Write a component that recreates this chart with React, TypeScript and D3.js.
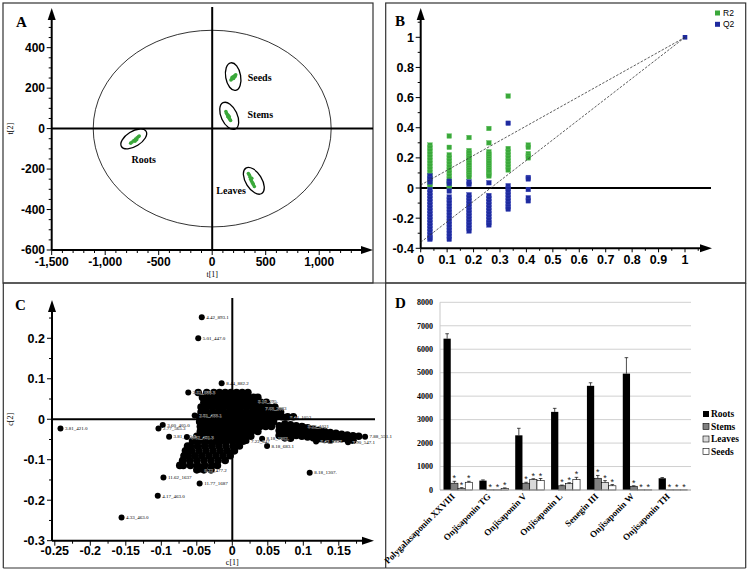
import React from "react";
import * as d3 from "d3";

const SANS = "'Liberation Sans', Arial, Helvetica, sans-serif";
const SERIF = "'Liberation Serif', 'Times New Roman', Times, serif";

// ================= Panel A : PCA score plot =================
const aXTicks = [-1500, -1000, -500, 0, 500, 1000];
const aYTicks = [-600, -400, -200, 0, 200, 400];
const aGroups = ["Seeds", "Stems", "Roots", "Leaves"];
const aSeeds: [number, number][] = [[175, 240], [185, 246], [192, 250], [198, 256], [206, 258], [212, 262], [220, 266], [200, 248], [186, 253], [214, 257]];
const aStems: [number, number][] = [[128, 84], [134, 76], [140, 70], [150, 66], [152, 56], [160, 50], [166, 45], [172, 40], [146, 60], [160, 58]];
const aRoots: [number, number][] = [[-762, -72], [-748, -66], [-732, -59], [-716, -52], [-702, -46], [-690, -40], [-722, -62], [-706, -55], [-682, -37]];
const aLeaves: [number, number][] = [[338, -222], [348, -230], [354, -240], [360, -250], [366, -258], [374, -266], [384, -276], [394, -286], [370, -246], [380, -270]];
const aGroupCenters: [number, number][] = [[196, 257], [159, 63], [-733, -51], [389, -258]];
const aHotelling: [number, number] = [1112, 486];

// ================= Panel B : permutation test =================
const bColX = [0.035, 0.108, 0.183, 0.258, 0.331, 0.407];
const bR2: number[][] = [
  [0.285, 0.265, 0.245, 0.225, 0.205, 0.185, 0.165, 0.145, 0.125, 0.105, 0.085, 0.065, 0.045, 0.025, 0.01],
  [0.345, 0.27, 0.22, 0.2, 0.18, 0.16, 0.14, 0.12, 0.1, 0.08, 0.06, 0.04, 0.02, 0.005],
  [0.335, 0.248, 0.232, 0.216, 0.2, 0.184, 0.168, 0.152, 0.136, 0.12, 0.104, 0.088, 0.072],
  [0.395, 0.3, 0.24, 0.225, 0.21, 0.195, 0.18, 0.165, 0.15, 0.135, 0.12, 0.105, 0.09, 0.08],
  [0.61, 0.262, 0.24, 0.22, 0.2, 0.18, 0.16, 0.14, 0.12],
  [0.285, 0.27, 0.228, 0.212, 0.2],
];
const bQ2: number[][] = [
  [0.08, 0.06, 0.04, -0.01, -0.03, -0.05, -0.07, -0.09, -0.11, -0.13, -0.15, -0.17, -0.19, -0.21, -0.23, -0.25, -0.27, -0.29, -0.31, -0.33, -0.34],
  [0.045, 0.03, -0.02, -0.06, -0.08, -0.1, -0.12, -0.14, -0.16, -0.18, -0.2, -0.22, -0.24, -0.26, -0.28, -0.3, -0.32, -0.34],
  [0.04, 0.025, -0.045, -0.065, -0.085, -0.105, -0.125, -0.145, -0.165, -0.185, -0.205, -0.225, -0.245, -0.265, -0.285],
  [0.035, -0.05, -0.07, -0.09, -0.11, -0.13, -0.15, -0.17, -0.19, -0.21, -0.23, -0.245],
  [0.43, 0.015, -0.005, -0.025, -0.045, -0.065, -0.085, -0.105, -0.125, -0.14],
  [0.07, 0.06, -0.01, -0.065, -0.085],
];
const bOriginal: [number, number] = [1, 1];
const bR2Line: [number, number][] = [[0, 0.02], [1, 1]];
const bQ2Line: [number, number][] = [[0, -0.36], [1, 1]];
const bXTicks = [0, 0.1, 0.2, 0.3, 0.4, 0.5, 0.6, 0.7, 0.8, 0.9, 1];
const bYTicks = [-0.4, -0.2, 0, 0.2, 0.4, 0.6, 0.8, 1];
const bLegend = ["R2", "Q2"];

// ================= Panel C : loading plot =================
const cXTicks = [-0.25, -0.2, -0.15, -0.1, -0.05, 0, 0.05, 0.1, 0.15];
const cYTicks = [-0.3, -0.2, -0.1, 0, 0.1, 0.2];
const cLabeled: [number, number, string][] = [
  [-0.043, 0.252, "4.42_893.1"],
  [-0.048, 0.2, "5.01_447.0"],
  [-0.015, 0.089, "8.44_882.2"],
  [-0.242, -0.023, "3.81_421.0"],
  [-0.098, -0.014, "3.60_405.0"],
  [-0.104, -0.023, "2.77_565.3"],
  [-0.089, -0.043, "3.81_435.0"],
  [-0.097, -0.144, "11.62_1637"],
  [-0.046, -0.159, "11.77_1687"],
  [-0.105, -0.189, "4.17_463.0"],
  [-0.156, -0.243, "4.33_463.0"],
  [0.109, -0.132, "8.18_1307."],
  [0.049, -0.066, "8.18_683.1"],
  [0.042, -0.048, "8.18_1962."],
  [0.118, -0.055, "8.42_1337"],
  [0.163, -0.057, "7.90_547.1"],
  [0.187, -0.043, "7.88_551.1"],
  [-0.062, 0.066, "3.81_655.3"],
  [-0.053, 0.009, "2.81_433.1"],
  [-0.064, -0.044, "3.52_401.3"],
  [0.03, 0.045, "8.10_295."],
  [0.04, 0.028, "7.63_2883"],
  [0.075, 0.004, "8.44_1053"],
  [0.1, -0.018, "8.22_1021"],
  [0.02, -0.054, "7.22_647"],
  [-0.046, -0.125, "6.22_477.2"],
];
const cCoreRows: [number, number[]][] = [
  [0.066, [-0.048, -0.036, -0.026, -0.018, -0.01, -0.002, 0.006, 0.014, 0.022]],
  [0.054, [-0.042, -0.034, -0.026, -0.018, -0.01, -0.002, 0.006, 0.014, 0.022, 0.03, 0.036]],
  [0.042, [-0.04, -0.032, -0.024, -0.016, -0.008, 0.0, 0.008, 0.016, 0.024, 0.032, 0.04, 0.048]],
  [0.03, [-0.044, -0.036, -0.028, -0.02, -0.012, -0.004, 0.004, 0.012, 0.02, 0.028, 0.036, 0.044, 0.052, 0.06]],
  [0.018, [-0.044, -0.036, -0.028, -0.02, -0.012, -0.004, 0.004, 0.012, 0.02, 0.028, 0.036, 0.044, 0.052, 0.06, 0.068]],
  [0.006, [-0.046, -0.042, -0.034, -0.026, -0.018, -0.01, -0.002, 0.006, 0.014, 0.022, 0.03, 0.038, 0.046, 0.054, 0.062, 0.07, 0.078, 0.086]],
  [-0.006, [-0.046, -0.038, -0.03, -0.022, -0.014, -0.006, 0.002, 0.01, 0.018, 0.026, 0.034, 0.042, 0.05, 0.058]],
  [-0.018, [-0.045, -0.041, -0.033, -0.025, -0.017, -0.009, -0.001, 0.007, 0.015, 0.023, 0.031, 0.039, 0.047, 0.055]],
  [-0.03, [-0.045, -0.037, -0.029, -0.021, -0.013, -0.005, 0.003, 0.011, 0.019, 0.027, 0.036]],
  [-0.042, [-0.05, -0.046, -0.038, -0.03, -0.022, -0.014, -0.006, 0.002, 0.01, 0.018, 0.026]],
  [-0.054, [-0.056, -0.048, -0.04, -0.032, -0.024, -0.016, -0.008, 0.0, 0.008, 0.016]],
  [-0.066, [-0.063, -0.059, -0.049, -0.039, -0.029, -0.019, -0.009, 0.001, 0.01]],
  [-0.078, [-0.066, -0.057, -0.047, -0.037, -0.027, -0.017, -0.007, 0.003]],
  [-0.09, [-0.068, -0.063, -0.053, -0.043, -0.033, -0.023, -0.013, -0.003]],
  [-0.102, [-0.07, -0.06, -0.05, -0.04, -0.03, -0.02, -0.01]],
  [-0.114, [-0.074, -0.069, -0.059, -0.049, -0.039, -0.029, -0.021]],
  [-0.125, [-0.05, -0.04, -0.03]],
];
const cTailCols: [number, number[]][] = [
  [0.066, [-0.016, -0.028, -0.04]],
  [0.074, [-0.012, -0.024, -0.036, -0.046]],
  [0.082, [-0.014, -0.026, -0.038, -0.047]],
  [0.09, [-0.016, -0.028, -0.04]],
  [0.098, [-0.018, -0.03, -0.042]],
  [0.106, [-0.021, -0.033, -0.044]],
  [0.114, [-0.024, -0.035, -0.046]],
  [0.122, [-0.027, -0.038, -0.048]],
  [0.13, [-0.03, -0.041, -0.05]],
  [0.138, [-0.033, -0.044, -0.052]],
  [0.146, [-0.035, -0.046]],
  [0.154, [-0.037, -0.048]],
  [0.162, [-0.039, -0.05]],
  [0.17, [-0.041, -0.052]],
  [0.178, [-0.042]],
];

// ================= Panel D : bar chart =================
const dCategories = ["Polygalasaponin XXVIII", "Onjisaponin TG", "Onjisaponin V", "Onjisaponin L", "Senegin III", "Onjisaponin W", "Onjisaponin TH"];
const dSeries = ["Roots", "Stems", "Leaves", "Seeds"];
const dRoots = [6450, 400, 2330, 3330, 4440, 4960, 500];
const dStems = [290, 5, 290, 180, 500, 160, 5];
const dLeaves = [70, 5, 450, 270, 320, 5, 5];
const dSeeds = [330, 70, 400, 440, 180, 5, 5];
const dRootsErr = [210, 30, 300, 150, 130, 680, 30];
const dStemsErr = [80, 0, 40, 30, 120, 20, 0];
const dLeavesErr = [30, 0, 30, 40, 80, 0, 0];
const dSeedsErr = [40, 20, 90, 100, 50, 0, 0];
const dYTicks = [0, 1000, 2000, 3000, 4000, 5000, 6000, 7000, 8000];

const GREEN = "#3aa83a";
const BLUE = "#1e2a9e";

const fmtA = d3.formatLocale({ decimal: ".", thousands: ",", grouping: [3], currency: ["", ""], minus: "-" }).format(",");

function ArrowUp({ x, y }: { x: number; y: number }) {
  return <polygon points={`${x},${y} ${x - 4},${y + 12} ${x + 4},${y + 12}`} fill="#000" />;
}
function ArrowRight({ x, y }: { x: number; y: number }) {
  return <polygon points={`${x},${y} ${x - 12},${y - 4} ${x - 12},${y + 4}`} fill="#000" />;
}

function PanelA() {
  const x = d3.scaleLinear().domain([-1500, 1500]).range([51.7, 372.7]);
  const y = d3.scaleLinear().domain([-600, 600]).range([250, 7.2]);
  const groupsPts = [aSeeds, aStems, aRoots, aLeaves];
  const ellStyle = [
    { rx: 7.5, ry: 14, rot: -10, lx: 14.5, ly: 0.5, anchor: "start" },
    { rx: 8, ry: 14.5, rot: -25, lx: 18.3, ly: -1, anchor: "start" },
    { rx: 14.5, ry: 7.5, rot: -32, lx: -2.3, ly: 21, anchor: "start" },
    { rx: 15, ry: 8, rot: 58, lx: -8, ly: 10, anchor: "end" },
  ];
  const yMinor = d3.range(-600, 501, 50);
  const xMinor = d3.range(-1500, 1301, 100);
  const x0 = x(-1500);
  const yb = y(-600);
  return (
    <g>
      <rect x={3} y={3} width={370} height={280} fill="none" stroke="#333" strokeWidth={1.2} />
      <text x={16} y={27} fontFamily={SERIF} fontWeight="bold" fontSize={15}>A</text>
      <ellipse cx={x(0)} cy={y(0)} rx={x(aHotelling[0]) - x(0)} ry={y(0) - y(aHotelling[1])} fill="none" stroke="#000" strokeWidth={0.8} />
      <line x1={x0} x2={373} y1={y(0)} y2={y(0)} stroke="#000" strokeWidth={2} />
      <line x1={x(0)} x2={x(0)} y1={7} y2={yb} stroke="#000" strokeWidth={2} />
      <line x1={x0} x2={x0} y1={yb} y2={18} stroke="#000" strokeWidth={2} />
      <ArrowUp x={x0} y={8} />
      <line x1={x0} x2={362} y1={yb} y2={yb} stroke="#000" strokeWidth={2} />
      <ArrowRight x={373} y={yb} />
      {yMinor.map((v) => (
        <line key={"ya" + v} x1={x0 - (v % 200 === 0 ? 5 : 3)} x2={x0} y1={y(v)} y2={y(v)} stroke="#000" strokeWidth={1} />
      ))}
      {xMinor.map((v) => (
        <line key={"xa" + v} x1={x(v)} x2={x(v)} y1={yb} y2={yb + (v % 500 === 0 ? 5 : 3)} stroke="#000" strokeWidth={1} />
      ))}
      {aYTicks.map((v) => (
        <text key={"yl" + v} x={45} y={y(v)} dy="0.36em" textAnchor="end" fontFamily={SANS} fontWeight="bold" fontSize={12}>{fmtA(v)}</text>
      ))}
      {aXTicks.map((v) => (
        <text key={"xl" + v} x={x(v)} y={266} textAnchor="middle" fontFamily={SANS} fontWeight="bold" fontSize={12}>{fmtA(v)}</text>
      ))}
      <text x={x(0)} y={277} textAnchor="middle" fontFamily={SERIF} fontSize={8}>t[1]</text>
      <text transform={`translate(13,${y(0)}) rotate(-90)`} textAnchor="middle" fontFamily={SERIF} fontSize={8}>t[2]</text>
      {aGroups.map((g, i) => {
        const [cx, cy] = [x(aGroupCenters[i][0]), y(aGroupCenters[i][1])];
        const s = ellStyle[i];
        return (
          <g key={g}>
            {groupsPts[i].map((p, j) => (
              <circle key={j} cx={x(p[0])} cy={y(p[1])} r={1.8} fill={GREEN} />
            ))}
            <ellipse cx={0} cy={0} rx={s.rx} ry={s.ry} transform={`translate(${cx},${cy}) rotate(${s.rot})`} fill="none" stroke="#000" strokeWidth={1.3} />
            <text x={cx + s.lx} y={cy + s.ly} dy="0.35em" textAnchor={s.anchor as any} fontFamily={SERIF} fontWeight="bold" fontSize={10}>{g}</text>
          </g>
        );
      })}
    </g>
  );
}

function PanelB() {
  const x = d3.scaleLinear().domain([0, 1]).range([420.7, 685]);
  const y = d3.scaleLinear().domain([-0.4, 1]).range([248.3, 37.3]);
  const x0 = x(0);
  const yb = y(-0.4);
  const yMinor = d3.range(-4, 12).map((v) => v / 10);
  const xMinor = d3.range(0, 22).map((v) => v / 20);
  const line = d3.line<[number, number]>().x((d) => x(d[0])).y((d) => y(d[1]));
  const sq = 4.6;
  return (
    <g>
      <rect x={385.7} y={3} width={360} height={280} fill="none" stroke="#333" strokeWidth={1.2} />
      <text x={395} y={26} fontFamily={SERIF} fontWeight="bold" fontSize={15}>B</text>
      <line x1={x0} x2={711} y1={y(0)} y2={y(0)} stroke="#000" strokeWidth={2} />
      <line x1={x0} x2={x0} y1={yb} y2={18} stroke="#000" strokeWidth={2} />
      <ArrowUp x={x0} y={8} />
      <line x1={x0} x2={702} y1={yb} y2={yb} stroke="#000" strokeWidth={2} />
      <ArrowRight x={712} y={yb} />
      {yMinor.map((v) => (
        <line key={"yb" + v} x1={x0 - (Math.round(v * 10) % 2 === 0 ? 5 : 3)} x2={x0} y1={y(v)} y2={y(v)} stroke="#000" strokeWidth={1} />
      ))}
      {xMinor.map((v) => (
        <line key={"xb" + v} x1={x(v)} x2={x(v)} y1={yb} y2={yb + (Math.round(v * 20) % 2 === 0 ? 4 : 2.5)} stroke="#000" strokeWidth={1} />
      ))}
      {bYTicks.map((v) => (
        <text key={"ybl" + v} x={414} y={y(v)} dy="0.36em" textAnchor="end" fontFamily={SANS} fontWeight="bold" fontSize={12.5}>{String(v)}</text>
      ))}
      {bXTicks.map((v) => (
        <text key={"xbl" + v} x={x(v)} y={263.5} textAnchor="middle" fontFamily={SANS} fontWeight="bold" fontSize={12.5}>{String(v)}</text>
      ))}
      {bR2.map((col, i) =>
        col.map((v, j) => (
          <rect key={`r${i}-${j}`} x={x(bColX[i]) - sq / 2} y={y(v) - sq / 2} width={sq} height={sq} fill={GREEN} stroke="#5cc05c" strokeWidth={0.4} />
        ))
      )}
      {bQ2.map((col, i) =>
        col.map((v, j) => (
          <rect key={`q${i}-${j}`} x={x(bColX[i]) - sq / 2} y={y(v) - sq / 2} width={sq} height={sq} fill={BLUE} stroke="#3a46b8" strokeWidth={0.4} />
        ))
      )}
      <rect x={x(bOriginal[0]) - sq / 2} y={y(bOriginal[1]) - sq / 2} width={sq} height={sq} fill={BLUE} />
      <path d={line(bR2Line) || ""} fill="none" stroke="#333" strokeWidth={0.8} strokeDasharray="2.5,1.5" />
      <path d={line(bQ2Line) || ""} fill="none" stroke="#333" strokeWidth={0.8} strokeDasharray="2.5,1.5" />
      {bLegend.map((t, i) => (
        <g key={t}>
          <rect x={715} y={10.5 + i * 11.3} width={5} height={5} fill={i === 0 ? GREEN : BLUE} />
          <text x={723} y={13 + i * 11.3} dy="0.36em" fontFamily={SANS} fontSize={8.5}>{t}</text>
        </g>
      ))}
    </g>
  );
}

function PanelC() {
  const x = d3.scaleLinear().domain([-0.25, 0.2]).range([54.8, 374.3]);
  const y = d3.scaleLinear().domain([-0.3, 0.3]).range([540.7, 297.8]);
  const xAxis = 52;
  const yb = y(-0.3);
  const yMinor = d3.range(-6, 6).map((v) => v / 20);
  const xMinor = d3.range(-10, 8).map((v) => v / 40);
  const pts: [number, number][] = [];
  cCoreRows.forEach(([c2, xs]) => xs.forEach((c1) => pts.push([c1, c2])));
  cTailCols.forEach(([c1, ys]) => ys.forEach((c2) => pts.push([c1, c2])));
  return (
    <g>
      <line x1={3.3} x2={3.3} y1={283} y2={568} stroke="#333" strokeWidth={1.2} />
      <line x1={3.3} x2={385.7} y1={568} y2={568} stroke="#333" strokeWidth={1.2} />
      <text x={15} y={310} fontFamily={SERIF} fontWeight="bold" fontSize={15}>C</text>
      {pts.map((p, i) => (
        <circle key={"c" + i} cx={x(p[0])} cy={y(p[1])} r={3.8} fill="#000" />
      ))}
      {cLabeled.map(([c1, c2, t], i) => (
        <g key={"cl" + i}>
          <circle cx={x(c1)} cy={y(c2)} r={3} fill="#000" />
          <text x={x(c1) + 4.5} y={y(c2)} dy="0.35em" fontFamily={SERIF} fontSize={5} fill="#000" stroke="#fff" strokeWidth={0.25} style={{ paintOrder: "stroke" }}>{t}</text>
        </g>
      ))}
      <line x1={xAxis} x2={375} y1={y(0)} y2={y(0)} stroke="#000" strokeWidth={2} />
      <line x1={x(0)} x2={x(0)} y1={298} y2={yb} stroke="#000" strokeWidth={2} />
      <line x1={xAxis} x2={xAxis} y1={yb} y2={310} stroke="#000" strokeWidth={2} />
      <ArrowUp x={xAxis} y={300} />
      <line x1={xAxis} x2={363} y1={yb} y2={yb} stroke="#000" strokeWidth={2} />
      <ArrowRight x={374} y={yb} />
      {yMinor.map((v) => (
        <line key={"yc" + v} x1={xAxis - (Math.round(v * 20) % 2 === 0 ? 5 : 3)} x2={xAxis} y1={y(v)} y2={y(v)} stroke="#000" strokeWidth={1} />
      ))}
      {xMinor.map((v) => (
        <line key={"xc" + v} x1={x(v)} x2={x(v)} y1={yb} y2={yb + (Math.round(v * 40) % 2 === 0 ? 5 : 3)} stroke="#000" strokeWidth={1} />
      ))}
      {cYTicks.map((v) => (
        <text key={"ycl" + v} x={45} y={y(v)} dy="0.36em" textAnchor="end" fontFamily={SANS} fontWeight="bold" fontSize={12.5}>{String(v)}</text>
      ))}
      {cXTicks.map((v) => (
        <text key={"xcl" + v} x={x(v)} y={555} textAnchor="middle" fontFamily={SANS} fontWeight="bold" fontSize={12.5}>{String(v)}</text>
      ))}
      <text x={x(0)} y={565} textAnchor="middle" fontFamily={SERIF} fontSize={8}>c[1]</text>
      <text transform={`translate(13,${y(0)}) rotate(-90)`} textAnchor="middle" fontFamily={SERIF} fontSize={8}>c[2]</text>
    </g>
  );
}

function PanelD() {
  const y = d3.scaleLinear().domain([0, 8000]).range([490, 302.3]);
  const x0 = d3.scaleBand<string>().domain(dCategories).range([440, 691]);
  const x1 = d3.scaleBand<string>().domain(dSeries).range([3.5, 32.5]);
  const values = [dRoots, dStems, dLeaves, dSeeds];
  const errs = [dRootsErr, dStemsErr, dLeavesErr, dSeedsErr];
  const fills = ["#000", "#808080", "#d9d9d9", "#fff"];
  return (
    <g>
      <line x1={385.7} x2={385.7} y1={283} y2={568} stroke="#333" strokeWidth={1.2} />
      <line x1={3.3} x2={745.7} y1={283} y2={283} stroke="#333" strokeWidth={1.2} />
      <line x1={745.7} x2={745.7} y1={283} y2={568} stroke="#333" strokeWidth={1.2} />
      <line x1={385.7} x2={745.7} y1={568} y2={568} stroke="#333" strokeWidth={1.2} />
      <text x={395} y={308} fontFamily={SERIF} fontWeight="bold" fontSize={15}>D</text>
      {dYTicks.map((v) => (
        <g key={"yd" + v}>
          {v > 0 && <line x1={440} x2={691} y1={y(v)} y2={y(v)} stroke="#d0d0d0" strokeWidth={1} />}
          <text x={433} y={y(v)} dy="0.35em" textAnchor="end" fontFamily={SERIF} fontWeight="bold" fontSize={8}>{v}</text>
        </g>
      ))}
      <line x1={440} x2={440} y1={y(8000)} y2={y(0)} stroke="#c8c8c8" strokeWidth={1} />
      {dCategories.map((c, ci) => (
        <g key={c}>
          {dSeries.map((s, si) => {
            const v = values[si][ci];
            const e = errs[si][ci];
            const bx = (x0(c) as number) + (x1(s) as number);
            const bw = x1.bandwidth();
            const top = y(v);
            const cx = bx + bw / 2;
            return (
              <g key={s}>
                <rect x={bx} y={top} width={bw} height={y(0) - top} fill={fills[si]} stroke={si === 0 ? "none" : "#000"} strokeWidth={0.6} />
                {e > 0 && (
                  <g stroke="#000" strokeWidth={0.7}>
                    <line x1={cx} x2={cx} y1={top} y2={y(v + e)} />
                    <line x1={cx - 1.8} x2={cx + 1.8} y1={y(v + e)} y2={y(v + e)} />
                  </g>
                )}
                {si > 0 && (
                  <text x={cx} y={y(v + e)} textAnchor="middle" fontFamily={SANS} fontSize={9} fill="#222">*</text>
                )}
              </g>
            );
          })}
        </g>
      ))}
      <line x1={440} x2={691} y1={y(0)} y2={y(0)} stroke="#9a9a9a" strokeWidth={1} />
      {dCategories.map((c) => {
        const cx = (x0(c) as number) + x0.bandwidth() / 2 - 2.5;
        return (
          <text key={"dl" + c} transform={`translate(${cx},497) rotate(-45)`} textAnchor="end" fontFamily={SERIF} fontWeight="bold" fontSize={9}>{c}</text>
        );
      })}
      {dSeries.map((s, i) => (
        <g key={"lg" + s}>
          <rect x={703} y={411 + i * 12.5} width={6} height={6} fill={fills[i]} stroke={i === 0 ? "none" : "#000"} strokeWidth={0.6} />
          <text x={711} y={414 + i * 12.5} dy="0.36em" fontFamily={SERIF} fontWeight="bold" fontSize={9.5}>{s}</text>
        </g>
      ))}
    </g>
  );
}

export default function App() {
  return (
    <svg width={750} height={581} viewBox="0 0 750 581" style={{ position: "absolute", left: 0, top: 0, background: "#fff" }}>
      <rect x={0} y={0} width={750} height={581} fill="#fff" />
      <PanelA />
      <PanelB />
      <PanelC />
      <PanelD />
    </svg>
  );
}
